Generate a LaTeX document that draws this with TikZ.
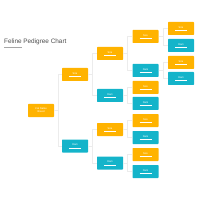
\documentclass[tikz,border=0pt]{standalone}
\usepackage{fontspec}
\setmainfont{Liberation Sans}
\definecolor{amber}{HTML}{FFB300}
\definecolor{teal2}{HTML}{14B4CA}
\definecolor{linegray}{HTML}{ECECEC}
\begin{document}
\begin{tikzpicture}[x=1pt,y=-1pt,
  cat/.style={rectangle, rounded corners=0.6pt, minimum width=26pt, minimum height=13pt, inner sep=0pt, text=white, font=\fontsize{2.6}{3}\selectfont, align=center},
  male/.style={cat, fill=amber},
  female/.style={cat, fill=teal2},
  link/.style={draw=linegray, line width=0.5pt}]
\useasboundingbox (0,0) rectangle (200,200);
\node[anchor=west, text=black!70, font=\fontsize{6.4}{7}\selectfont, inner sep=0pt] (title) at (4,42) {Feline Pedigree Chart};
\draw[black!35, line width=0.35pt] (4,47.5) -- (22,47.5);
\newcommand{\catlabel}[1]{#1\\[-0.3pt]\rule{12pt}{0.4pt}}
% level 1
\node[male] (a) at (41,110.5) {Cat Name\\Breed};
% level 2
\node[male] (b1) at (75,74.5) {\catlabel{Sire}};
\node[female] (b2) at (75,146) {\catlabel{Dam}};
% level 3
\node[male] (c1) at (110,53.5) {\catlabel{Sire}};
\node[female] (c2) at (110,95.5) {\catlabel{Dam}};
\node[male] (c3) at (110,129.5) {\catlabel{Sire}};
\node[female] (c4) at (110,163) {\catlabel{Dam}};
% level 4
\node[male] (d1) at (145.5,36.5) {\catlabel{Sire}};
\node[female] (d2) at (145.5,70.5) {\catlabel{Dam}};
\node[male] (d3) at (145.5,87.5) {\catlabel{Sire}};
\node[female] (d4) at (145.5,103.5) {\catlabel{Dam}};
\node[male] (d5) at (145.5,120.5) {\catlabel{Sire}};
\node[female] (d6) at (145.5,137.5) {\catlabel{Dam}};
\node[male] (d7) at (145.5,154.5) {\catlabel{Sire}};
\node[female] (d8) at (145.5,171.5) {\catlabel{Dam}};
% level 5
\node[male] (e1) at (181,28.5) {\catlabel{Sire}};
\node[female] (e2) at (181,45.5) {\catlabel{Dam}};
\node[male] (e3) at (181,62.5) {\catlabel{Sire}};
\node[female] (e4) at (181,78.5) {\catlabel{Dam}};
% connectors
\foreach \p/\c in {a/b1,a/b2,b1/c1,b1/c2,b2/c3,b2/c4,c1/d1,c1/d2,c2/d3,c2/d4,c3/d5,c3/d6,c4/d7,c4/d8,d1/e1,d1/e2,d2/e3,d2/e4}
  \draw[link] (\p.east) -- ++(4.5,0) |- (\c.west);
\end{tikzpicture}
\end{document}
